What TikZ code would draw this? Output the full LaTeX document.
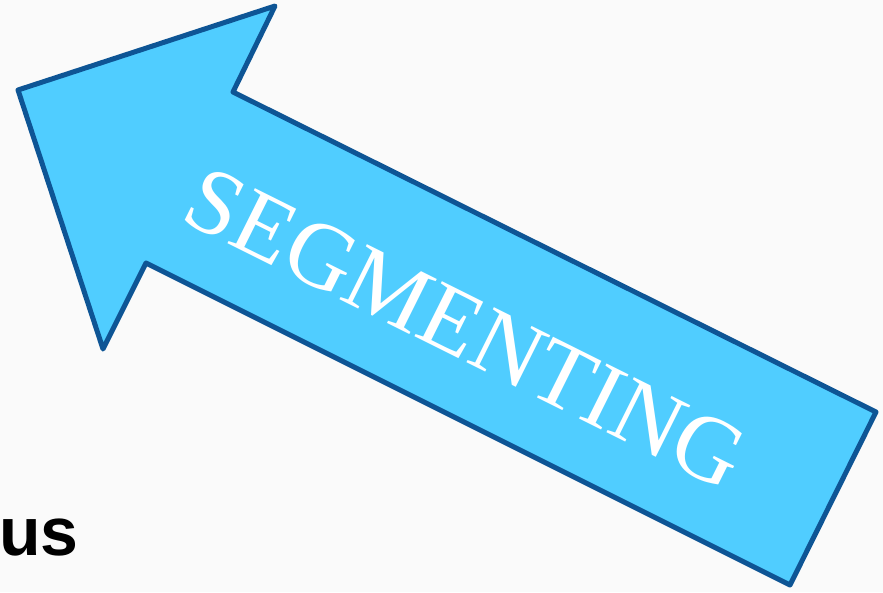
\documentclass[tikz,border=0pt]{standalone}
\usepackage{fontspec}
\setmainfont{Liberation Serif}
\newfontfamily\labelsans{Liberation Sans}
\definecolor{arrowfill}{HTML}{50CDFF}
\definecolor{arrowline}{HTML}{0E5595}
\definecolor{paper}{HTML}{FAFAFA}
\begin{document}
\begin{tikzpicture}[x=1pt,y=-1pt]
            \tikzstyle{every node}+=[inner sep=0pt]
            \fill [paper] (0,0) rectangle (883,592);
            \useasboundingbox (0,0) rectangle (883,592);
            \draw [arrowline, fill=arrowfill, line width=5, line join=round] (18,90) -- (275,6) -- (233,92) -- (876,412) -- (790,585) -- (146,263) -- (103,349) -- cycle;
            \node (segmenting) at (466,328) [rotate=-26.5, text=white, font=\fontsize{94}{94}\selectfont] {SEGMENTING};
            \node (us) at (79,555) [anchor=base east, font=\labelsans\bfseries\fontsize{68}{68}\selectfont] {us};
\end{tikzpicture}
\end{document}
